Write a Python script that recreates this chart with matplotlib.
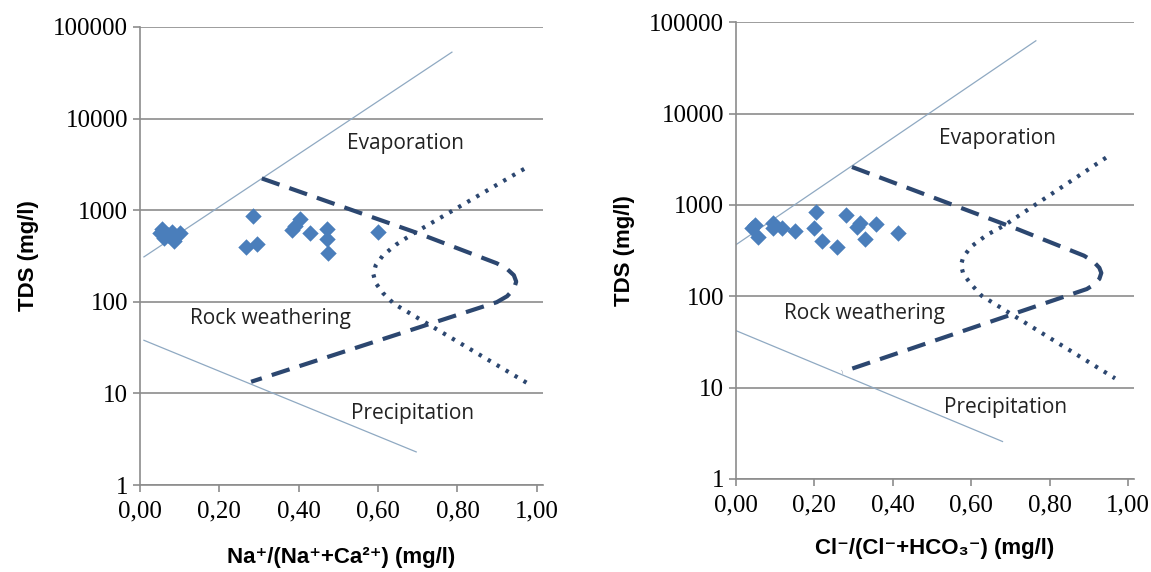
import numpy as np
import matplotlib
matplotlib.use("Agg")
import matplotlib.pyplot as plt
from matplotlib.ticker import FixedLocator, FuncFormatter

# --- Na/(Na+Ca) panel ---
na_x = [0.05, 0.055, 0.06, 0.07, 0.08, 0.085, 0.10,
        0.284, 0.266, 0.294, 0.403, 0.390, 0.382, 0.428, 0.470, 0.470, 0.474, 0.600]
na_tds = [560, 620, 500, 540, 580, 460, 560,
          856, 393, 428, 801, 678, 608, 559, 624, 485, 337, 573]

# boundary lines (Gibbs diagram)
na_evap_x = [0.01, 0.786]
na_evap_y = [309, 53000]
na_prec_x = [0.01, 0.696]
na_prec_y = [38, 2.3]
na_dash_x = [0.307, 0.705, 0.899, 0.925, 0.942, 0.948, 0.942, 0.925, 0.899, 0.280]
na_dash_y = [2220, 551, 263, 228, 195, 166, 138, 115, 99, 13.4]
na_dot_x = [0.968, 0.687, 0.645, 0.612, 0.594, 0.588, 0.594, 0.612, 0.640, 0.986]
na_dot_y = [2820, 550, 420, 320, 250, 200, 160, 125, 95, 12.2]

# --- Cl/(Cl+HCO3) panel ---
cl_x = [0.0485, 0.040, 0.057, 0.095, 0.095, 0.117, 0.151, 0.203, 0.199,
        0.219, 0.257, 0.282, 0.308, 0.316, 0.329, 0.356, 0.414]
cl_tds = [603, 555, 449, 630, 555, 555, 519, 845, 555,
          403, 349, 776, 578, 640, 421, 618, 490]

cl_evap_x = [0.0, 0.765]
cl_evap_y = [367, 63000]
cl_prec_x = [0.0, 0.680]
cl_prec_y = [42, 2.56]
cl_dash_x = [0.296, 0.720, 0.888, 0.912, 0.927, 0.932, 0.927, 0.912, 0.895, 0.271]
cl_dash_y = [2610, 540, 278, 240, 205, 180, 155, 133, 120, 14.8]
cl_dot_x = [0.944, 0.683, 0.640, 0.600, 0.580, 0.574, 0.580, 0.600, 0.627, 0.967]
cl_dot_y = [3300, 592, 470, 350, 270, 220, 175, 135, 101, 12.6]

xticks = [0.0, 0.2, 0.4, 0.6, 0.8, 1.0]
yticks = [1, 10, 100, 1000, 10000, 100000]

grid_col = "#8c8c8c"
thin_col = "#8fa9c2"
bound_col = "#2c4770"
pt_col = "#4a7ebb"

fig = plt.figure(figsize=(11.51, 5.72), dpi=100)
ax1 = fig.add_axes([0.1216, 0.152, 0.350, 0.801])
ax2 = fig.add_axes([0.6394, 0.163, 0.3457, 0.7977])

def style(ax, xlabel, labelpad):
    ax.set_yscale("log")
    ax.set_xlim(0, 1.015)
    ax.set_ylim(1, 100000)
    ax.yaxis.set_major_locator(FixedLocator(yticks))
    ax.yaxis.set_minor_locator(FixedLocator([]))
    ax.yaxis.set_major_formatter(FuncFormatter(lambda v, p: "%d" % v))
    ax.set_xticks(xticks)
    ax.xaxis.set_major_formatter(FuncFormatter(lambda v, p: ("%.2f" % v).replace(".", ",")))
    for s in ["top", "right"]:
        ax.spines[s].set_visible(False)
    for s in ["left", "bottom"]:
        ax.spines[s].set_color(grid_col)
        ax.spines[s].set_linewidth(1.2)
    ax.grid(axis="y", color=grid_col, linewidth=1.2)
    ax.set_axisbelow(True)
    ax.tick_params(colors=grid_col, length=5, width=1.2, labelcolor="black")
    ax.tick_params(axis="x", pad=6)
    for lab in ax.get_xticklabels() + ax.get_yticklabels():
        lab.set_fontfamily("Liberation Serif")
        lab.set_fontsize(18)
    ax.set_ylabel("TDS (mg/l)", fontsize=16, fontweight="bold",
                  family=["Liberation Sans", "DejaVu Sans"], labelpad=10)
    ax.set_xlabel(xlabel, fontsize=16, fontweight="bold",
                  family=["Liberation Sans", "DejaVu Sans"], labelpad=labelpad)

def draw(ax, ex, ey, px, py, dx, dy, ox, oy, sx, sy):
    ax.plot(ex, ey, color=thin_col, lw=0.9)
    ax.plot(px, py, color=thin_col, lw=0.9)
    ax.plot(dx, dy, color=bound_col, lw=3, ls=(0, (4.5, 2.5)))
    ax.plot(ox, oy, color=bound_col, lw=3, ls=(0, (0.8, 1.7)))
    ax.scatter(sx, sy, marker="D", s=70, color=pt_col, zorder=5, linewidths=0)
    kw = dict(fontsize=15, family="Open Sans", ha="center", va="center", color="#222222")
    ax.text(0.668, 5400, "Evaporation", **kw)
    ax.text(0.328, 65, "Rock weathering", **kw)
    ax.text(0.688, 6.1, "Precipitation", **kw)

draw(ax1, na_evap_x, na_evap_y, na_prec_x, na_prec_y, na_dash_x, na_dash_y,
     na_dot_x, na_dot_y, na_x, na_tds)
draw(ax2, cl_evap_x, cl_evap_y, cl_prec_x, cl_prec_y, cl_dash_x, cl_dash_y,
     cl_dot_x, cl_dot_y, cl_x, cl_tds)

style(ax1, "Na\u207a/(Na\u207a+Ca\u00b2\u207a) (mg/l)", 18)
style(ax2, "Cl\u207b/(Cl\u207b+HCO\u2083\u207b) (mg/l)", 16)

fig.savefig("out.png", dpi=100)
